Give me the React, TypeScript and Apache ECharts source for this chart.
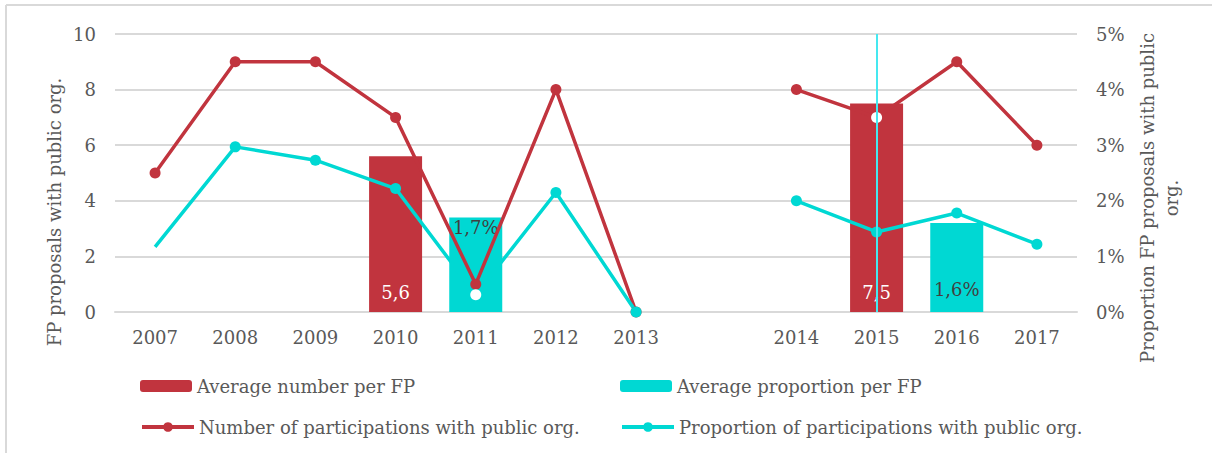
import React, { useEffect, useRef } from "react";
import * as echarts from "echarts";

const categories = ["2007", "2008", "2009", "2010", "2011", "2012", "2013", "", "2014", "2015", "2016", "2017"];
const avgNumberPerFP = [null, null, null, 5.6, null, null, null, null, null, 7.5, null, null];
const avgProportionPerFP = [null, null, null, null, 1.7, null, null, null, null, null, 1.6, null];
const participations = [5, 9, 9, 7, 1, 8, 0, null, 8, 7, 9, 6];
const proportions = [1.17, 2.97, 2.73, 2.22, 0.31, 2.15, 0, null, 2.0, 1.44, 1.78, 1.22];
const whiteMarkerParticipations = ["2015"];
const whiteMarkerProportions = ["2011"];
const noMarkerProportions = ["2007"];
const topLabelProportionBars = ["2011"];
const highlightYear = "2015";

const RED = "#C1343E";
const CYAN = "#00D8D3";
const GRAY = "#595959";
const GRID = "#D9D9D9";
const FONT = "'DejaVu Serif', Georgia, serif";

const fmt = (v: number) => String(v).replace(".", ",");

export default function App() {
  const ref = useRef<HTMLDivElement>(null);
  useEffect(() => {
    if (!ref.current) return;
    const chart = echarts.init(ref.current, null, { renderer: "svg" });
    const partData = participations.map((v, i) =>
      whiteMarkerParticipations.includes(categories[i]) ? { value: v, itemStyle: { color: "#fff" } } : v
    );
    const propData = proportions.map((v, i) => {
      if (whiteMarkerProportions.includes(categories[i])) return { value: v, itemStyle: { color: "#fff" } };
      if (noMarkerProportions.includes(categories[i])) return { value: v, symbol: "none" };
      return v;
    });
    const propBarData = avgProportionPerFP.map((v, i) =>
      v !== null && topLabelProportionBars.includes(categories[i])
        ? { value: v, label: { position: "insideTop", distance: 1 } }
        : v
    );
    const legendBase = {
      itemWidth: 52,
      itemHeight: 12,
      padding: 0,
      lineStyle: { width: 4 },
      textStyle: { fontFamily: FONT, fontSize: 18, color: GRAY },
    };
    chart.setOption({
      animation: false,
      textStyle: { fontFamily: FONT },
      grid: { left: 115, right: 135, top: 34, bottom: 141, containLabel: false },
      xAxis: {
        type: "category",
        data: categories,
        axisTick: { show: false },
        axisLine: { show: true, lineStyle: { color: GRID, width: 2 } },
        axisLabel: { color: GRAY, fontFamily: FONT, fontSize: 18, margin: 16, interval: 0 },
      },
      yAxis: [
        {
          type: "value",
          min: 0,
          max: 10,
          interval: 2,
          axisLine: { show: false },
          axisTick: { show: false },
          axisLabel: { color: GRAY, fontFamily: FONT, fontSize: 18, margin: 19 },
          splitLine: { lineStyle: { color: GRID, width: 2 } },
        },
        {
          type: "value",
          min: 0,
          max: 5,
          interval: 1,
          axisLine: { show: false },
          axisTick: { show: false },
          splitLine: { show: false },
          axisLabel: { color: GRAY, fontFamily: FONT, fontSize: 18, margin: 19, formatter: "{value}%" },
        },
      ],
      legend: [
        { ...legendBase, data: ["Average number per FP"], left: 140, top: 377 },
        { ...legendBase, data: ["Average proportion per FP"], left: 620, top: 377 },
        { ...legendBase, data: ["Number of participations with public org."], left: 140, top: 418 },
        { ...legendBase, data: ["Proportion of participations with public org."], left: 620, top: 418 },
      ],
      series: [
        {
          name: "Average number per FP",
          type: "bar",
          yAxisIndex: 0,
          data: avgNumberPerFP,
          barWidth: 53,
          barGap: "-100%",
          itemStyle: { color: RED },
          label: {
            show: true,
            position: "insideBottom",
            distance: 11,
            color: "#fff",
            fontFamily: FONT,
            fontSize: 18,
            formatter: (p: any) => fmt(p.value),
          },
        },
        {
          name: "Average proportion per FP",
          type: "bar",
          yAxisIndex: 1,
          data: propBarData,
          barWidth: 53,
          barGap: "-100%",
          itemStyle: { color: CYAN },
          label: {
            show: true,
            position: "insideBottom",
            distance: 14,
            color: "#404040",
            fontFamily: FONT,
            fontSize: 18,
            formatter: (p: any) => fmt(p.value) + "%",
          },
        },
        {
          name: "Number of participations with public org.",
          type: "line",
          yAxisIndex: 0,
          data: partData,
          connectNulls: false,
          symbol: "circle",
          symbolSize: 11,
          lineStyle: { color: RED, width: 3.5 },
          itemStyle: { color: RED },
        },
        {
          name: "Proportion of participations with public org.",
          type: "line",
          yAxisIndex: 1,
          data: propData,
          connectNulls: false,
          symbol: "circle",
          symbolSize: 11,
          lineStyle: { color: CYAN, width: 3.5 },
          itemStyle: { color: CYAN },
          markLine: {
            silent: true,
            symbol: "none",
            label: { show: false },
            lineStyle: { color: "#45E8F0", width: 2, type: "solid" },
            data: [{ xAxis: highlightYear }],
          },
        },
      ],
      graphic: [
        { type: "line", shape: { x1: 6, y1: 5, x2: 1212, y2: 5 }, style: { stroke: GRID, lineWidth: 2 } },
        { type: "line", shape: { x1: 6, y1: 5, x2: 6, y2: 453 }, style: { stroke: GRID, lineWidth: 2 } },
        {
          type: "text",
          x: 54,
          y: 212,
          rotation: Math.PI / 2,
          style: {
            text: "FP proposals with public org.",
            fill: GRAY,
            font: `18px ${FONT}`,
            align: "center",
            verticalAlign: "middle",
          },
        },
        {
          type: "text",
          x: 1159,
          y: 198,
          rotation: Math.PI / 2,
          style: {
            text: "Proportion FP proposals with public\norg.",
            fill: GRAY,
            font: `18px ${FONT}`,
            align: "center",
            verticalAlign: "middle",
            lineHeight: 24,
          },
        },
      ],
    });
    return () => chart.dispose();
  }, []);
  return (
    <div
      ref={ref}
      style={{ position: "absolute", left: 0, top: 0, width: 1212, height: 453, background: "#fff" }}
    />
  );
}
